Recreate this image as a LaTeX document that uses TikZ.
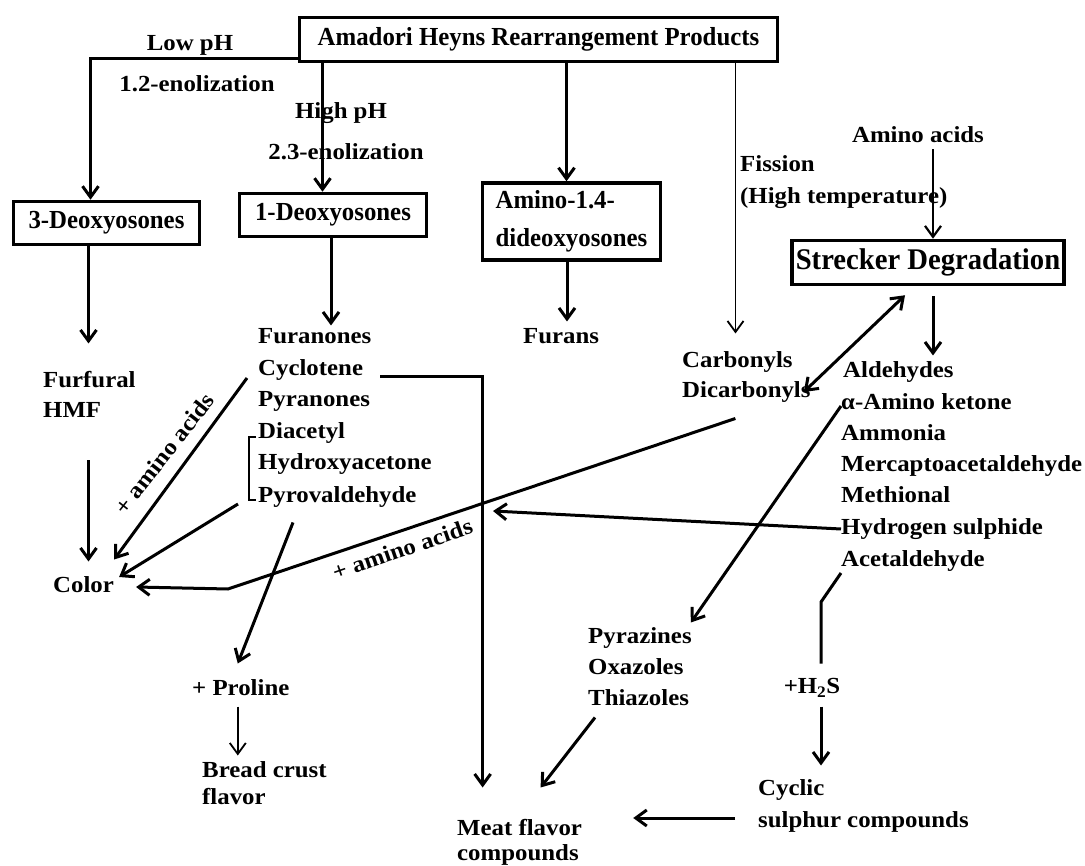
\documentclass[tikz,border=0pt]{standalone}
\usepackage{fontspec}
\setmainfont{Liberation Serif}
\newfontfamily\listfont{Liberation Serif}[FakeStretch=1.08]
\newfontfamily\boxfont{Liberation Serif}[FakeStretch=0.955]
\usetikzlibrary{arrows.meta,calc}
\begin{document}
\begin{tikzpicture}[x=1pt,y=-1pt,
  lbl/.style={inner sep=0pt, font=\listfont\bfseries\fontsize{23}{28}\selectfont, text height=16pt, text depth=4.6pt},
  item/.style={lbl, anchor=west},
  box/.style={draw, line width=3.5pt, inner sep=0pt, font=\boxfont\bfseries\fontsize{26}{31}\selectfont},
  arr/.style={line width=3pt, -{Straight Barb[length=11pt,width=16pt]}},
  thinarr/.style={line width=1.8pt, -{Straight Barb[length=11pt,width=16pt]}},
  plain/.style={line width=3pt},
]
\fill[white] (0,0) rectangle (1085,866);
\useasboundingbox (0,0) rectangle (1085,866);

% boxes
\node[box, minimum width=478pt, minimum height=44pt] (amadori) at (538.5,39.5) {Amadori Heyns Rearrangement Products};
\node[box, minimum width=186pt, minimum height=43pt] (deoxy3) at (106.5,223) {3-Deoxyosones};
\node[box, minimum width=187pt, minimum height=43pt] (deoxy1) at (333,215) {1-Deoxyosones};
\node[box, minimum width=178pt, minimum height=77pt, align=left, font=\boxfont\bfseries\fontsize{26}{38}\selectfont] (amino) at (571.5,221.5) {Amino-1.4-\\dideoxyosones};
\node[box, minimum width=272pt, minimum height=44pt, font=\boxfont\bfseries\fontsize{30}{36}\selectfont] (strecker) at (928,262.5) {Strecker Degradation};

% labels
\node[lbl] (lowph) at (190,45) {Low pH};
\node[lbl] (enol12) at (197,86) {1.2-enolization};
\node[lbl] (highph) at (341,113) {High pH};
\node[lbl] (enol23) at (346,154) {2.3-enolization};
\node[item] (fission) at (740,166) {Fission};
\node[item] (hightemp) at (740,198) {(High temperature)};
\node[lbl] (aminoacids) at (918,137) {Amino acids};

% items
\node[item] (furfural) at (43,382) {Furfural};
\node[item] (hmf) at (43,412) {HMF};
\node[item] (furanones) at (258,338) {Furanones};
\node[item] (cyclotene) at (258,370) {Cyclotene};
\node[item] (pyranones) at (258,401) {Pyranones};
\node[item] (diacetyl) at (258,433) {Diacetyl};
\node[item] (hydroxy) at (258,464) {Hydroxyacetone};
\node[item] (pyroval) at (258,497) {Pyrovaldehyde};
\node[item] (furans) at (523,338) {Furans};
\node[item] (carbonyls) at (682,362) {Carbonyls};
\node[item] (dicarbonyls) at (682,392) {Dicarbonyls};
\node[item] (aldehydes) at (843,372) {Aldehydes};
\node[item] (aminoketone) at (841,404) {α-Amino ketone};
\node[item] (ammonia) at (841,435) {Ammonia};
\node[item] (mercapto) at (841,466) {Mercaptoacetaldehyde};
\node[item] (methional) at (841,497) {Methional};
\node[item] (hydrogen) at (841,529) {Hydrogen sulphide};
\node[item] (acetaldehyde) at (841,561) {Acetaldehyde};
\node[item] (color) at (53,587) {Color};
\node[item] (proline) at (192,690) {+ Proline};
\node[item] (bread) at (202,772) {Bread crust};
\node[item] (flavor) at (202,799) {flavor};
\node[item] (meat) at (457,830) {Meat flavor};
\node[item] (compounds) at (457,855) {compounds};
\node[item] (pyrazines) at (588,638) {Pyrazines};
\node[item] (oxazoles) at (588,669) {Oxazoles};
\node[item] (thiazoles) at (588,700) {Thiazoles};
\node[lbl] (h2s) at (812,688) {+H\textsubscript{2}S};
\node[item] (cyclic) at (758,790) {Cyclic};
\node[item] (sulphur) at (758,822) {sulphur compounds};

\node[lbl, rotate=52] (aa1) at (166,455) {+ amino acids};
\node[lbl, rotate=19] (aa2) at (403,551) {+ amino acids};

% bracket
\draw[line width=2pt] ([xshift=-2pt,yshift=-4pt]diacetyl.west) -- ++(-7,0) -- ++(0,63) -- ++(7,0);

% connectors
\draw[arr] ([yshift=5pt]amadori.south west) -| ([xshift=-16pt]deoxy3.north);
\draw[arr] ([xshift=-216pt]amadori.south) -- ([xshift=-216pt]amadori.south |- deoxy1.north);
\draw[arr] ([xshift=28pt]amadori.south) -- ([xshift=28pt]amadori.south |- amino.north);
\draw[thinarr] ([xshift=197pt]amadori.south) -- ([xshift=197pt,yshift=18pt]amadori.south |- carbonyls.north);
\draw[arr, line width=2.2pt, shorten <=2pt] ([xshift=5pt]strecker.north |- aminoacids.south) -- ([xshift=5pt]strecker.north);

\draw[arr, shorten >=28pt] ([xshift=-18pt]deoxy3.south) -- ([xshift=-18pt]deoxy3.south |- furfural.north);
\draw[arr, shorten <=38pt, shorten >=15pt] ([xshift=-18pt]deoxy3.south |- hmf.south) -- ([xshift=-18pt]deoxy3.south |- color.north);
\draw[arr, shorten >=2pt] ([xshift=-2pt]deoxy1.south) -- ([xshift=-2pt]deoxy1.south |- furanones.north);
\draw[arr, shorten >=6pt] ([xshift=-4.5pt]amino.south) -- ([xshift=-4.5pt]amino.south |- furans.north);
\draw[arr, shorten <=10pt, shorten >=6pt] ([xshift=5pt]strecker.south) -- ([xshift=5pt]strecker.south |- aldehydes.north);

\draw[arr] ([xshift=-11pt,yshift=-8pt]cyclotene.west) -- ([yshift=17pt]color.north east);
\draw[arr] ([xshift=-20pt,yshift=-7pt]pyroval.west) -- ([xshift=5pt,yshift=10pt]color.east);
\coordinate (bend1) at (228,589);
\draw[arr] ([xshift=-11pt,yshift=-16pt]dicarbonyls.south) -- (bend1) -- ([xshift=22pt]color.east);

\coordinate (hstip) at (493,511);
\draw[arr] (hydrogen.west) -- (hstip);
\draw[arr] ([yshift=-2pt]aminoketone.west) -- ([xshift=-1pt,yshift=5pt]pyrazines.north east);
\draw[line width=3pt, {Straight Barb[length=11pt,width=16pt]}-{Straight Barb[length=11pt,width=16pt]}] ([xshift=-7pt]dicarbonyls.east) -- ([xshift=-23pt,yshift=-9pt]strecker.south);

\draw[arr] ([xshift=35pt,yshift=-15pt]pyroval.south west) -- ([xshift=-3pt,yshift=16pt]proline.north);
\draw[thinarr, shorten <=6pt, shorten >=6pt] ([xshift=-3pt]proline.south) -- ([xshift=-3pt]proline.south |- bread.north);

\draw[arr] ([xshift=17pt,yshift=-7pt]cyclotene.east) -| ([xshift=-37pt,yshift=32pt]meat.north);
\draw[arr] ([xshift=7pt,yshift=-7pt]thiazoles.south west) -- ([xshift=21pt,yshift=32pt]meat.north);
\draw[arr] ([xshift=-23pt,yshift=4pt]sulphur.west) -- ([xshift=51pt,yshift=12pt]meat.east);

\draw[plain] ([yshift=-12pt]acetaldehyde.west) -- ++(-20,29) -- ([xshift=9pt,yshift=14pt]h2s.north);
\draw[arr, shorten <=8pt, shorten >=14pt] ([xshift=9pt]h2s.south) -- ([xshift=9pt]h2s.south |- cyclic.north);
\end{tikzpicture}
\end{document}
